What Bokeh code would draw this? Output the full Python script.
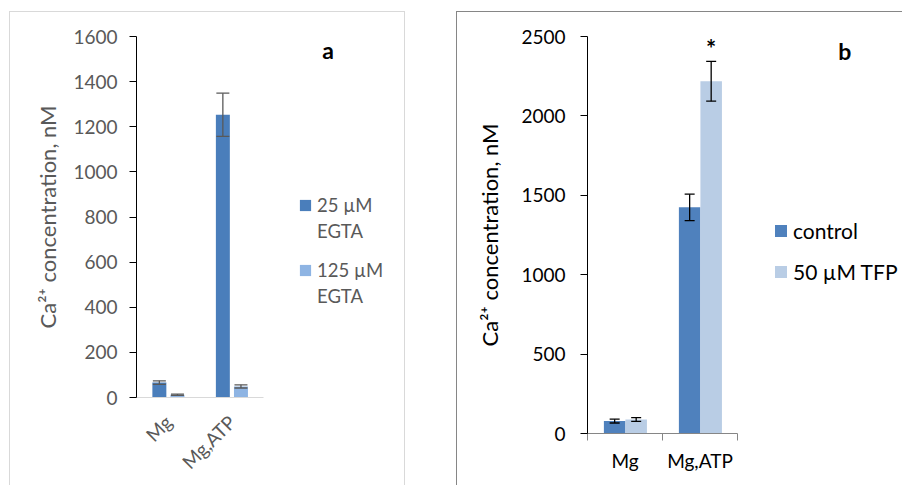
import numpy as np
from bokeh.plotting import figure
from bokeh.layouts import row
from bokeh.models import (Range1d, FixedTicker, ColumnDataSource, Whisker, TeeHead,
                          Legend, LegendItem, Label)
from bokeh.core.properties import value
from bokeh.embed import file_html
from bokeh.resources import INLINE

# ---------------- data ----------------
categories = ["Mg", "Mg,ATP"]

# panel a
a_series = ["25 µM", "125 µM"]
a_series_line2 = "EGTA"
a_egta25 = [66, 1253]
a_egta25_err = [8, 96]
a_egta125 = [12, 49]
a_egta125_err = [3, 7]
a_yticks = [0, 200, 400, 600, 800, 1000, 1200, 1400, 1600]
a_panel = "a"

# panel b
b_series = ["control", "50 µM TFP"]
b_control = [78, 1424]
b_control_err = [12, 83]
b_tfp = [88, 2218]
b_tfp_err = [12, 125]
b_marks = ["", "*"]
b_yticks = [0, 500, 1000, 1500, 2000, 2500]
b_panel = "b"

y_label = "Ca²⁺ concentration, nM"
FONT = "Lato"

n_cat = len(categories)
centers = np.arange(n_cat) + 0.5


def src(offset, vals, errs):
    v = np.array(vals, dtype=float)
    e = np.array(errs, dtype=float)
    return ColumnDataSource(dict(x=centers + offset, top=v, upper=v + e, lower=v - e))


def whisker(s, color, size, lw):
    return Whisker(base="x", upper="upper", lower="lower", source=s, level="annotation",
                   line_color=color, line_width=lw,
                   upper_head=TeeHead(size=size, line_color=color, line_width=lw),
                   lower_head=TeeHead(size=size, line_color=color, line_width=lw))


def style_legend(lg, size, color, glyph, label_h, spacing, standoff):
    lg.label_text_font = FONT
    lg.label_text_font_size = size
    lg.label_text_color = color
    lg.glyph_width = glyph
    lg.glyph_height = glyph
    lg.label_height = label_h
    lg.spacing = spacing
    lg.padding = 0
    lg.margin = 0
    lg.border_line_color = None
    lg.background_fill_alpha = 0
    lg.label_standoff = standoff


# ---------------- panel a ----------------
A_DARK = "#4a7ebb"
A_LIGHT = "#8eb4e3"
A_TXT = "#595959"
A_BORDER = "#d9d9d9"
A_CAT_PX = 63.5          # pixel width of one category
A_W, A_LEFT = 396, 126
a_x_end = (A_W - A_LEFT) / A_CAT_PX   # frame extends to the right edge (room for legend)

pa = figure(width=A_W, height=474, x_range=Range1d(0, a_x_end),
            y_range=Range1d(a_yticks[0], a_yticks[-1]),
            output_backend="svg", toolbar_location=None,
            min_border_left=A_LEFT, min_border_right=0, min_border_top=24, min_border_bottom=89,
            outline_line_color=None, margin=(11, 0, 0, 9), frame_align=False)
pa.styles = {"border-top": f"1px solid {A_BORDER}", "border-left": f"1px solid {A_BORDER}",
             "border-right": f"1px solid {A_BORDER}"}
pa.xgrid.visible = False
pa.ygrid.visible = False

sa1 = src(-0.14, a_egta25, a_egta25_err)
sa2 = src(0.145, a_egta125, a_egta125_err)
ra1 = pa.vbar(x="x", top="top", width=0.22, source=sa1, fill_color=A_DARK, line_color=None)
ra2 = pa.vbar(x="x", top="top", width=0.22, source=sa2, fill_color=A_LIGHT, line_color=None)
pa.add_layout(whisker(sa1, A_TXT, 13, 1.3))
pa.add_layout(whisker(sa2, A_TXT, 13, 1.3))
blank_a = pa.vbar(x=[], top=[], width=0.1, fill_alpha=0, line_alpha=0)

ya = pa.yaxis[0]
ya.ticker = FixedTicker(ticks=a_yticks)
ya.axis_line_color = "black"
ya.major_tick_line_color = "black"
ya.major_tick_out = 7
ya.major_tick_in = 0
ya.minor_tick_line_color = None
ya.major_label_text_font = FONT
ya.major_label_text_font_size = "19px"
ya.major_label_text_color = A_TXT
ya.major_label_standoff = 12
ya.axis_label = y_label
ya.axis_label_text_font = FONT
ya.axis_label_text_font_size = "22px"
ya.axis_label_text_font_style = "normal"
ya.axis_label_text_color = A_TXT
ya.axis_label_standoff = 9

xa = pa.xaxis[0]
xa.bounds = (0, n_cat)
xa.ticker = FixedTicker(ticks=list(centers))
xa.major_label_overrides = {float(c): cat for c, cat in zip(centers, categories)}
xa.major_label_orientation = np.pi / 4
xa.axis_line_color = A_BORDER
xa.major_tick_line_color = None
xa.minor_tick_line_color = None
xa.major_label_text_font = FONT
xa.major_label_text_font_size = "19px"
xa.major_label_text_color = A_TXT
xa.major_label_standoff = 15

lga1 = Legend(items=[LegendItem(label=a_series[0], renderers=[ra1]),
                     LegendItem(label=a_series_line2, renderers=[blank_a])],
              location=(162, 155))
lga2 = Legend(items=[LegendItem(label=a_series[1], renderers=[ra2]),
                     LegendItem(label=a_series_line2, renderers=[blank_a])],
              location=(162, 90))
for lg in (lga1, lga2):
    style_legend(lg, "18.5px", A_TXT, 14, 21, 4, 5)
    pa.add_layout(lg, "center")

pa.add_layout(Label(x=3.016, y=1542, text=a_panel, text_font=FONT, text_font_size="23px",
                    text_font_style="bold", text_color="black", text_align="center",
                    text_baseline="alphabetic"))

# ---------------- panel b ----------------
B_DARK = "#4f81bd"
B_LIGHT = "#b9cde5"
B_AXIS = "#868686"
B_CAT_PX = 75.0
B_W, B_LEFT = 446, 130
b_x_end = (B_W - B_LEFT) / B_CAT_PX

pb = figure(width=B_W, height=474, x_range=Range1d(0, b_x_end),
            y_range=Range1d(b_yticks[0], b_yticks[-1]),
            output_backend="svg", toolbar_location=None,
            min_border_left=B_LEFT, min_border_right=0, min_border_top=24, min_border_bottom=53,
            outline_line_color=None, margin=(11, 0, 0, 51), frame_align=False)
pb.styles = {"border-top": f"1px solid {B_AXIS}", "border-left": f"1px solid {B_AXIS}"}
pb.xgrid.visible = False
pb.ygrid.visible = False

sb1 = src(-0.138, b_control, b_control_err)
sb2 = src(0.149, b_tfp, b_tfp_err)
rb1 = pb.vbar(x="x", top="top", width=0.287, source=sb1, fill_color=B_DARK, line_color=None)
rb2 = pb.vbar(x="x", top="top", width=0.287, source=sb2, fill_color=B_LIGHT, line_color=None)
pb.add_layout(whisker(sb1, "black", 10, 1.3))
pb.add_layout(whisker(sb2, "black", 10, 1.3))

sb2.data["mark"] = b_marks
pb.text(x="x", y="upper", text="mark", source=sb2, text_font=value(FONT),
        text_font_size=value("24px"), text_font_style="bold", text_color="black",
        text_align="center", text_baseline="alphabetic", y_offset=-13)

yb = pb.yaxis[0]
yb.ticker = FixedTicker(ticks=b_yticks)
yb.axis_line_color = "black"
yb.major_tick_line_color = "black"
yb.major_tick_out = 7
yb.major_tick_in = 0
yb.minor_tick_line_color = None
yb.major_label_text_font = FONT
yb.major_label_text_font_size = "19px"
yb.major_label_text_color = "black"
yb.major_label_standoff = 15
yb.axis_label = y_label
yb.axis_label_text_font = FONT
yb.axis_label_text_font_size = "22px"
yb.axis_label_text_font_style = "normal"
yb.axis_label_text_color = "black"
yb.axis_label_standoff = 15

xb = pb.xaxis[0]
xb.bounds = (0, n_cat)
xb.ticker = FixedTicker(ticks=list(centers), minor_ticks=list(range(n_cat + 1)))
xb.major_label_overrides = {float(c): cat for c, cat in zip(centers, categories)}
xb.axis_line_color = B_AXIS
xb.major_tick_line_color = None
xb.minor_tick_line_color = B_AXIS
xb.minor_tick_out = 7
xb.minor_tick_in = 0
xb.major_label_text_font = FONT
xb.major_label_text_font_size = "19px"
xb.major_label_text_color = "black"
xb.major_label_standoff = 8

lgb = Legend(items=[LegendItem(label=b_series[0], renderers=[rb1]),
                    LegendItem(label=b_series[1], renderers=[rb2])],
             location=(186, 149))
style_legend(lgb, "21px", "black", 15, 24, 16, 5)
pb.add_layout(lgb, "center")

pb.add_layout(Label(x=3.43, y=2410, text=b_panel, text_font=FONT, text_font_size="23px",
                    text_font_style="bold", text_color="black", text_align="center",
                    text_baseline="alphabetic"))

layout = row(pa, pb, spacing=0)
open("out.html", "w").write(file_html(layout, INLINE))
